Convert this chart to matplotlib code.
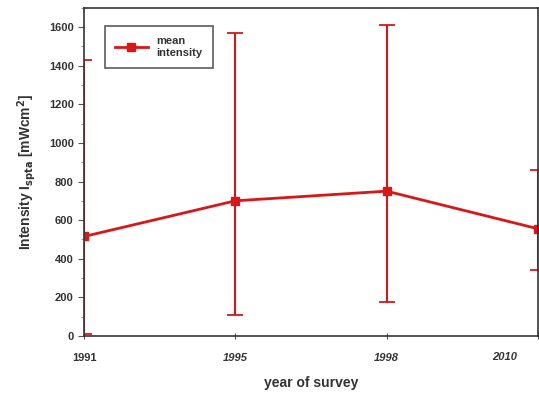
import numpy as np
import matplotlib.pyplot as plt
from matplotlib.lines import Line2D

# values
years = ['1991', '1995', '1998', '2010']
mean_intensity = [515, 700, 750, 555]
upper = [1430, 1570, 1610, 860]
lower = [10, 110, 175, 340]

plt.rcParams['font.family'] = ['Liberation Sans', 'DejaVu Sans']
plt.rcParams['font.weight'] = 'bold'
plt.rcParams['axes.labelweight'] = 'bold'

x = np.arange(len(years))
yerr = [np.array(mean_intensity) - np.array(lower), np.array(upper) - np.array(mean_intensity)]

fig, ax = plt.subplots(figsize=(5.39, 3.96), dpi=100)
fig.subplots_adjust(left=0.156, right=0.998, top=0.98, bottom=0.152)

red = '#d81818'
ax.errorbar(x, mean_intensity, yerr=yerr, color=red, lw=2, marker='s', ms=6,
            capsize=6, capthick=1.3, elinewidth=1.5)

ax.set_xlim(0, len(years) - 1)
ax.set_ylim(0, 1700)
ax.set_yticks(range(0, 1601, 200))
ax.set_yticks(range(0, 1701, 100), minor=True)
ax.set_xticks(x)
# last label is drawn separately so it can sit inside the right edge
ax.set_xticklabels(years[:-1] + [''], fontsize=8, color='#333333')
for i, lbl in enumerate(ax.get_xticklabels()):
    if i > 0:
        lbl.set_style('italic')
ax.annotate(years[-1], xy=(x[-1], 0), xycoords=('data', 'axes fraction'),
            xytext=(-15, -15.5), textcoords='offset points', ha='right', va='center',
            fontsize=8, color='#333333', style='italic', annotation_clip=False)
ax.tick_params(axis='y', labelsize=8, labelcolor='#333333', direction='out', length=4, color='#555555')
ax.tick_params(axis='y', which='minor', length=2, color='#888888')
ax.tick_params(axis='x', direction='inout', length=5, pad=10, color='#555555')

ax.set_xlabel('year of survey', fontsize=10, color='#333333', labelpad=9)
ax.set_ylabel('Intensity I$_{\\mathbf{spta}}$ [mWcm$^{\\mathbf{2}}$]', fontsize=10,
              color='#333333', labelpad=8)

for s in ax.spines.values():
    s.set_color('#333333')
    s.set_linewidth(1.2)

handle = Line2D([], [], color=red, lw=2, marker='s', ms=6)
leg = ax.legend([handle], ['mean\nintensity'], loc='upper left', bbox_to_anchor=(0.045, 0.945),
                fontsize=8, frameon=True, fancybox=False, edgecolor='#333333',
                handlelength=3, borderpad=0.9, borderaxespad=0)
leg.get_frame().set_linewidth(1.2)
for t in leg.get_texts():
    t.set_color('#333333')

plt.savefig('out.png', dpi=100)
